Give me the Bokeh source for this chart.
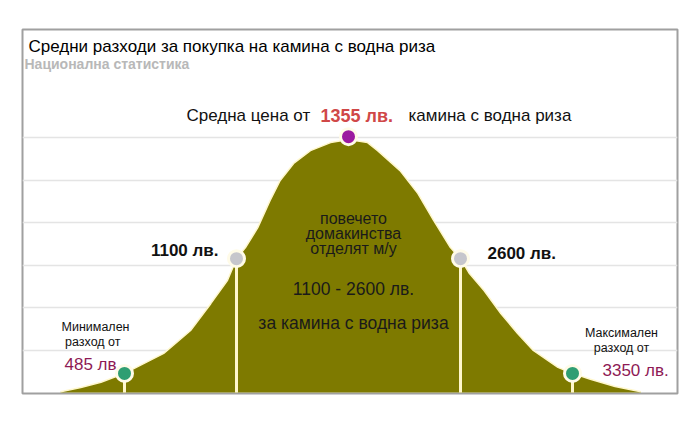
from bokeh.plotting import figure
from bokeh.models import Range1d, Grid, FixedTicker, Label, ColumnDataSource
from bokeh.embed import file_html
from bokeh.resources import INLINE

# ---------------- data ----------------
point_names = ["Минимален", "Долна граница", "Средна", "Горна граница", "Максимален"]
prices = [485, 1100, 1355, 2600, 3350]
positions = [0, 1, 2, 3, 4]
point_heights = [0.45, 3.15, 6.02, 3.15, 0.45]

curve_x = [-0.57, -0.39, -0.21, 0.0, 0.35, 0.59, 0.77, 0.92, 1.0, 1.08, 1.19, 1.30,
           1.39, 1.51, 1.66, 1.84, 2.0, 2.17, 2.26, 2.46, 2.62, 2.76, 2.91, 3.0,
           3.08, 3.21, 3.36, 3.51, 3.65, 3.87, 4.0, 4.16, 4.38, 4.61]
curve_h = [0.02, 0.12, 0.24, 0.45, 0.92, 1.46, 2.09, 2.64, 3.15, 3.41, 3.88, 4.52,
           4.99, 5.39, 5.69, 5.88, 5.95, 5.88, 5.69, 5.22, 4.68, 4.05, 3.41, 3.15,
           2.80, 2.40, 1.86, 1.39, 0.99, 0.59, 0.45, 0.31, 0.14, 0.02]

grid_levels = [1, 2, 3, 4, 5, 6]

title_text = "Средни разходи за покупка на камина с водна риза"
subtitle_text = "Национална статистика"

# ---------------- layout helpers ----------------
PX0, PXU, PY0, PYU = 124.0, 112.0, 392.0, 42.5


def dx(px):
    return (px - PX0) / PXU


def dy(py):
    return (PY0 - py) / PYU


FONT = "Liberation Sans"
OLIVE = "#7e7a00"
CREAM = "#fff7cc"

p = figure(width=684, height=420,
           x_range=Range1d(dx(22), dx(677)), y_range=Range1d(dy(393), dy(29)),
           min_border_left=22, min_border_right=7, min_border_top=29, min_border_bottom=27,
           x_axis_location=None, y_axis_location=None,
           toolbar_location=None, output_backend="svg")
p.outline_line_color = "#a0a0a0"
p.outline_line_width = 2
p.background_fill_color = "white"
p.border_fill_color = "white"

# remove default grids, add only horizontal ones
p.center = [r for r in p.center if not isinstance(r, Grid)]
p.add_layout(Grid(dimension=1, ticker=FixedTicker(ticks=grid_levels),
                  grid_line_color="#e4e4e4", grid_line_width=1.5))

# bell area
p.varea(x=curve_x, y1=0, y2=curve_h, fill_color=OLIVE)
p.line(x=curve_x, y=curve_h, line_color=CREAM, line_width=1.5)

# vertical drop lines (all except mean)
seg_idx = [0, 1, 3, 4]
p.segment(x0=[positions[i] for i in seg_idx], y0=[0] * len(seg_idx),
          x1=[positions[i] for i in seg_idx], y1=[point_heights[i] for i in seg_idx],
          line_color=CREAM, line_width=3)

dot_colors = ["#2f9e72", "#c6c6cc", "#9c1aa0", "#c6c6cc", "#2f9e72"]
src = ColumnDataSource(dict(x=positions, y=point_heights, c=dot_colors, name=point_names))
p.scatter(x="x", y="y", source=src, size=16, fill_color="c",
          line_color="#fffbe8", line_width=3)


def lab(text, px, py, size="16px", color="#111111", style="normal", align="left"):
    p.add_layout(Label(x=dx(px), y=dy(py), text=text, text_font=FONT,
                       text_font_size=size, text_color=color, text_font_style=style,
                       text_align=align, text_baseline="middle"))


lab(title_text, 28, 46, "17px", "#000000")
lab(subtitle_text, 24, 63, "14px", "#b8b8b8", "bold")

lab("Средна цена от", 186, 115, "17px", "#111111")
lab(f"{prices[2]} лв.", 320, 115, "18px", "#d04848", "bold")
lab("камина с водна риза", 408, 115, "17px", "#111111")

lab(f"{prices[1]} лв.", 218, 250, "17px", "#111111", "bold", "right")
lab(f"{prices[3]} лв.", 487, 253, "17px", "#111111", "bold")

lab("повечето", 353, 218, "16px", "#1a1a1a", align="center")
lab("домакинства", 353, 233, "16px", "#1a1a1a", align="center")
lab("отделят м/у", 353, 248, "16px", "#1a1a1a", align="center")
lab(f"{prices[1]} - {prices[3]} лв.", 353, 288, "17.5px", "#1a1a1a", align="center")
lab("за камина с водна риза", 353, 322, "17.5px", "#1a1a1a", align="center")

lab("Минимален", 95, 326, "12.5px", "#111111", align="center")
lab("разход  от", 94, 341, "12.5px", "#111111", align="center")
lab(f"{prices[0]} лв", 64, 364, "17px", "#8e1a55")

lab("Максимален", 621, 332, "12.5px", "#111111", align="center")
lab("разход от", 621, 347, "12.5px", "#111111", align="center")
lab(f"{prices[4]} лв.", 602, 370, "17px", "#8e1a55")

open("out.html", "w").write(file_html(p, INLINE))
